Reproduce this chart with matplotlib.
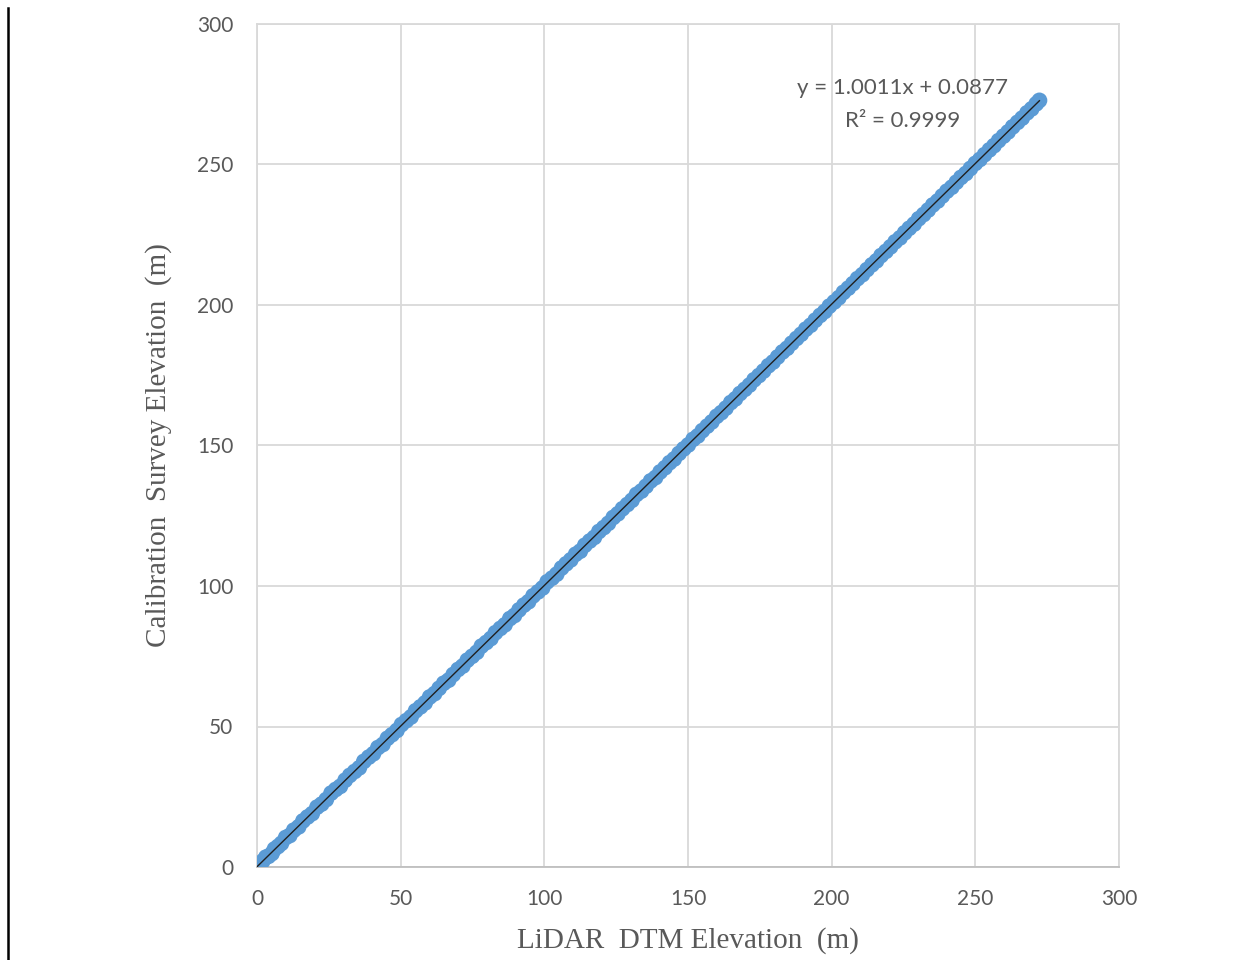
import matplotlib
matplotlib.use("Agg")
import matplotlib.pyplot as plt
from matplotlib.lines import Line2D

lidar_x = [0.5, 1.2, 2.0, 3.1, 4.0, 5.2, 6.1, 7.3, 8.5, 10.0,
           11.4, 12.8, 14.5, 16.0, 17.6, 19.2, 20.9, 22.5, 24.1, 25.8,
           27.4, 29.0, 30.7, 32.3, 34.0, 35.6, 37.2, 38.9, 40.5, 42.1,
           43.8, 45.4, 47.0, 48.7, 50.3, 52.0, 53.6, 55.2, 56.9, 58.5,
           60.1, 61.8, 63.4, 65.0, 66.7, 68.3, 70.0, 71.6, 73.2, 74.9,
           76.5, 78.1, 79.8, 81.4, 83.0, 84.7, 86.3, 88.0, 89.6, 91.2,
           92.9, 94.5, 96.1, 97.8, 99.4, 101.0, 102.7, 104.3, 106.0, 107.6,
           109.2, 110.9, 112.5, 114.1, 115.8, 117.4, 119.0, 120.7, 122.3, 124.0,
           125.6, 127.2, 128.9, 130.5, 132.1, 133.8, 135.4, 137.0, 138.7, 140.3,
           142.0, 143.6, 145.2, 146.9, 148.5, 150.1, 151.8, 153.4, 155.0, 156.7,
           158.3, 160.0, 161.6, 163.2, 164.9, 166.5, 168.1, 169.8, 171.4, 173.0,
           174.7, 176.3, 178.0, 179.6, 181.2, 182.9, 184.5, 186.1, 187.8, 189.4,
           191.0, 192.7, 194.3, 196.0, 197.6, 199.2, 200.9, 202.5, 204.1, 205.8,
           207.4, 209.0, 210.7, 212.3, 214.0, 215.6, 217.2, 218.9, 220.5, 222.1,
           223.8, 225.4, 227.0, 228.7, 230.3, 232.0, 233.6, 235.2, 236.9, 238.5,
           240.1, 241.8, 243.4, 245.0, 246.7, 248.3, 250.0, 251.6, 253.2, 254.9,
           256.5, 258.1, 259.8, 261.4, 263.0, 264.7, 266.3, 268.0, 269.6, 271.2,
           272.3]
survey_y = [0.7, 0.9, 2.1, 3.5, 3.8, 4.8, 6.4, 7.3, 8.4, 10.5,
            11.2, 13.1, 14.3, 16.4, 17.8, 19.0, 21.3, 22.4, 24.0, 26.3,
            27.6, 28.7, 30.9, 32.6, 34.0, 35.3, 37.6, 39.1, 40.3, 42.5,
            43.6, 45.8, 47.1, 48.6, 50.7, 52.1, 53.4, 55.6, 57.0, 58.4,
            60.5, 61.7, 63.6, 65.4, 66.5, 68.5, 70.3, 71.5, 73.6, 75.0,
            76.4, 78.6, 79.9, 81.3, 83.4, 84.9, 86.2, 88.4, 89.5, 91.5,
            93.2, 94.4, 96.5, 97.9, 99.3, 101.5, 102.8, 104.2, 106.4, 107.9,
            109.3, 111.3, 112.4, 114.5, 116.0, 117.3, 119.4, 120.8, 122.3, 124.4,
            125.7, 127.5, 129.0, 130.5, 132.6, 133.8, 135.5, 137.4, 138.6, 140.6,
            142.1, 143.9, 145.2, 147.2, 148.8, 150.2, 152.2, 153.4, 155.3, 156.9,
            158.4, 160.4, 161.7, 163.3, 165.3, 166.6, 168.5, 170.0, 171.5, 173.4,
            174.9, 176.5, 178.4, 179.7, 181.5, 183.3, 184.6, 186.4, 188.1, 189.6,
            191.4, 192.8, 194.6, 196.3, 197.7, 199.6, 201.1, 202.6, 204.5, 206.0,
            207.6, 209.4, 210.8, 212.6, 214.3, 215.7, 217.6, 219.1, 220.7, 222.5,
            223.9, 225.7, 227.3, 228.8, 230.7, 232.2, 233.8, 235.6, 237.0, 238.8,
            240.5, 241.9, 243.7, 245.4, 246.8, 248.6, 250.4, 251.8, 253.5, 255.2,
            256.7, 258.5, 260.1, 261.6, 263.4, 265.0, 266.5, 268.4, 269.8, 271.6,
            272.8]

trend_slope = 1.0011
trend_intercept = 0.0877
trend_r2 = 0.9999
ticks = [0, 50, 100, 150, 200, 250, 300]

fig = plt.figure(figsize=(12.51, 9.6), dpi=100)
ax = fig.add_axes([257/1251, 1-867/960, (1119-257)/1251, (867-24)/960])

ax.scatter(lidar_x, survey_y, s=130, color='#5b9bd5', edgecolors='none', zorder=3)
tx = [0, max(lidar_x)]
ax.plot(tx, [trend_slope*v + trend_intercept for v in tx], color='#1f1f1f', lw=1.0, zorder=4)

ax.set_xlim(0, 300)
ax.set_ylim(0, 300)
ax.set_xticks(ticks)
ax.set_yticks(ticks)
ax.grid(True, color='#d9d9d9', lw=1.3)
ax.set_axisbelow(True)
for side in ['left', 'right', 'top']:
    ax.spines[side].set_color('#d9d9d9')
    ax.spines[side].set_linewidth(1.3)
ax.spines['bottom'].set_color('#bfbfbf')
ax.spines['bottom'].set_linewidth(1.3)
ax.tick_params(length=0, labelsize=15, labelcolor='#595959')
for lab in ax.get_xticklabels() + ax.get_yticklabels():
    lab.set_family('Lato')
ax.tick_params(axis='x', pad=16)
ax.tick_params(axis='y', pad=17)

ax.set_xlabel('LiDAR  DTM Elevation  (m)', family='Liberation Serif', fontsize=21,
              color='#595959', labelpad=13)
ax.set_ylabel('Calibration  Survey Elevation  (m)', family='Liberation Serif', fontsize=21,
              color='#595959', labelpad=18)

ax.text(224.8, 277.2, f'y = {trend_slope:.4f}x + {trend_intercept:.4f}', family='Lato',
        fontsize=16, color='#595959', ha='center', va='center')
ax.text(224.8, 265.5, f'R² = {trend_r2:.4f}', family='Lato',
        fontsize=16, color='#595959', ha='center', va='center')

fig.add_artist(Line2D([8/1251, 8/1251], [0, 1-8/960], color='black', lw=1.8,
                      transform=fig.transFigure))

fig.savefig('out.png', dpi=100, facecolor='white')
